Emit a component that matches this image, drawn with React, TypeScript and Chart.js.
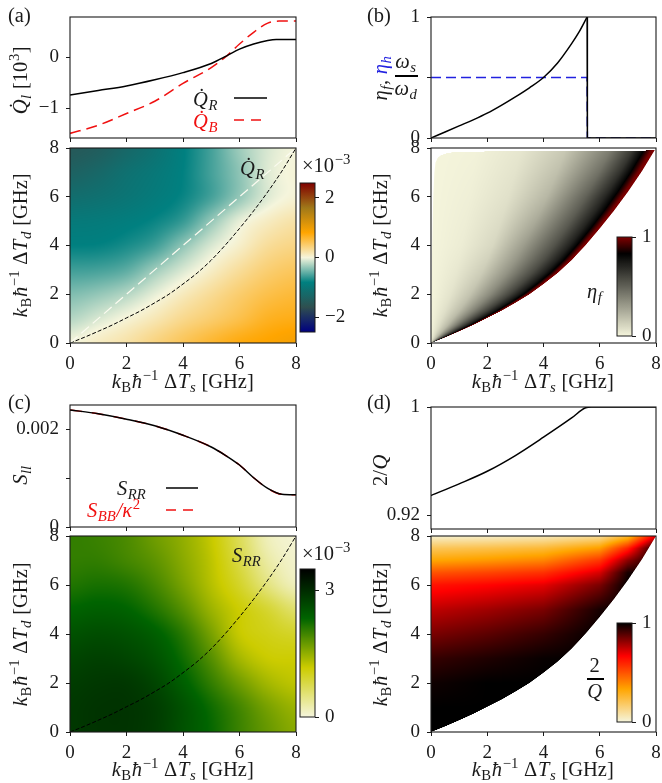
import React, { useEffect, useRef } from "react";
import { Chart, registerables } from "chart.js";

Chart.register(...registerables);

const FONT = '"Liberation Serif"';
const INK = "#1a1a1a";

// ---------- data ----------
const heatR = [
  [0, 0.1, 0.2, 0.35, 0.5, 0.65, 0.78, 0.85, 0.92],
  [-0.22, -0.1, 0.02, 0.15, 0.3, 0.42, 0.55, 0.7, 0.75],
  [-0.4, -0.33, -0.22, -0.05, 0.12, 0.27, 0.42, 0.55, 0.62],
  [-0.62, -0.6, -0.52, -0.3, -0.1, 0.08, 0.25, 0.4, 0.48],
  [-0.83, -0.82, -0.75, -0.62, -0.35, -0.1, 0.07, 0.25, 0.33],
  [-0.95, -0.93, -0.88, -0.8, -0.65, -0.33, -0.05, 0.1, 0.2],
  [-1.15, -1.1, -1.02, -0.92, -0.8, -0.6, -0.33, -0.08, 0.03],
  [-1.35, -1.25, -1.1, -0.98, -0.83, -0.6, -0.35, -0.08, 0.02],
  [-1.5, -1.42, -1.25, -1.08, -0.85, -0.6, -0.3, -0.1, 0],
];
const heatS = [
  [2.85, 2.9, 2.9, 2.8, 2.55, 2.3, 2.0, 1.75, 1.55],
  [2.85, 2.9, 2.9, 2.8, 2.55, 2.25, 1.95, 1.65, 1.45],
  [2.8, 2.85, 2.85, 2.7, 2.4, 2.05, 1.7, 1.4, 1.25],
  [2.7, 2.75, 2.7, 2.55, 2.25, 1.85, 1.4, 1.18, 1.15],
  [2.55, 2.6, 2.55, 2.4, 2.1, 1.65, 1.2, 1.05, 0.95],
  [2.35, 2.4, 2.35, 2.15, 1.85, 1.45, 1.15, 0.9, 0.6],
  [2.15, 2.2, 2.15, 1.95, 1.65, 1.3, 0.95, 0.5, 0.18],
  [2.05, 2.05, 1.95, 1.8, 1.55, 1.25, 0.8, 0.3, 0.08],
  [2.05, 2.0, 1.9, 1.7, 1.5, 1.2, 0.7, 0.18, 0.05],
];
const boundX = [0, 0.5, 1, 1.5, 2, 2.5, 3, 3.5, 4, 4.5, 5, 5.5, 6, 6.5, 7, 7.5, 8];
const boundY = [0, 0.23, 0.48, 0.74, 1.03, 1.32, 1.65, 2.0, 2.42, 2.87, 3.4, 4.02, 4.7, 5.42, 6.2, 7.05, 8];
const diagX = [0, 8];
const diagY = [0, 8];

const etaU = [0, 0.2, 0.4, 0.6, 0.8, 0.9, 0.945, 0.97, 0.985, 1];
const etaRowsY = [0, 1, 2, 4, 6, 8];
const etaF = [
  [0, 0.1, 0.22, 0.42, 0.65, 0.77, 0.84, 0.93, 0.98, 1],
  [0, 0.08, 0.2, 0.4, 0.63, 0.76, 0.84, 0.93, 0.98, 1],
  [0, 0.06, 0.17, 0.36, 0.6, 0.75, 0.84, 0.93, 0.98, 1],
  [0, 0.03, 0.1, 0.3, 0.55, 0.72, 0.83, 0.93, 0.98, 1],
  [0, 0.02, 0.07, 0.21, 0.5, 0.7, 0.82, 0.92, 0.98, 1],
  [0, 0.01, 0.05, 0.15, 0.4, 0.63, 0.8, 0.91, 0.98, 1],
];
const edgeY = [0, 4, 6, 7, 7.4, 7.6, 7.7, 7.8, 7.85, 7.9];
const edgeX = [0, 0.04, 0.08, 0.12, 0.16, 0.24, 0.35, 0.6, 1.0, 8];

const qCols = [0, 2, 4, 6, 7, 8];
const qRowsY = [0, 1, 2, 3, 4, 5, 6, 6.5, 7, 7.5, 8];
const qVals = [
  [1, 1, 1, 1, 1, 1],
  [1, 1, 1, 1, 1, 1],
  [0.98, 1, 1, 1, 1, 1],
  [0.93, 0.96, 0.99, 1, 1, 1],
  [0.84, 0.88, 0.93, 1, 1, 1],
  [0.75, 0.79, 0.84, 0.97, 1, 1],
  [0.63, 0.66, 0.7, 0.84, 1, 1],
  [0.5, 0.53, 0.57, 0.72, 0.97, 1],
  [0.33, 0.36, 0.4, 0.56, 0.82, 1],
  [0.2, 0.22, 0.25, 0.35, 0.6, 1],
  [0.02, 0.03, 0.05, 0.1, 0.25, 0.7],
];

const xTop = [0, 1, 2, 3, 4, 5, 5.55, 6, 6.5, 7, 7.3, 8];
const qR = [-0.74, -0.65, -0.56, -0.44, -0.3, -0.12, 0.03, 0.16, 0.26, 0.33, 0.35, 0.35];
const xTopB = [0, 1, 2, 3, 4, 5, 5.55, 6, 6.5, 7, 7.4, 8];
const qB = [-1.49, -1.33, -1.1, -0.86, -0.51, -0.2, 0.03, 0.26, 0.49, 0.67, 0.71, 0.71];

const xEta = [0, 0.5, 1, 1.5, 2, 2.5, 3, 3.5, 4, 4.5, 5, 5.25, 5.55];
const ratio = [0, 0.05, 0.1, 0.15, 0.205, 0.27, 0.34, 0.415, 0.5, 0.62, 0.78, 0.87, 1];
const xDrop = [5.55, 5.56, 8];
const ratioDrop = [1, 0, 0];
const xEtaH = [0, 5.55, 5.56, 8];
const etaH = [0.5, 0.5, 0, 0];

const xS = [0, 1, 2, 3, 4, 5, 5.5, 6, 6.5, 7, 7.5, 8];
const sRR = [2.4, 2.32, 2.21, 2.075, 1.88, 1.64, 1.47, 1.27, 1.01, 0.79, 0.67, 0.66];

const xInvQ = [0, 1, 2, 3, 4, 5, 5.5, 5.7, 8];
const invQ = [0.9347, 0.9433, 0.9526, 0.9642, 0.9777, 0.9919, 0.9995, 1.0, 1.0];

const heatTicks = [0, 2, 4, 6, 8];

// colormaps
type RGB = [number, number, number];
const cmapR: RGB[] = [[0, 0, 128], [47, 79, 79], [0, 128, 128], [245, 245, 220], [255, 165, 0], [160, 120, 25], [128, 0, 0]];
const cmapEta: [number, RGB][] = [[0, [245, 245, 220]], [0.83, [0, 0, 0]], [1, [128, 0, 0]]];
const cmapS: RGB[] = [[245, 245, 220], [204, 204, 0], [0, 100, 0], [0, 0, 0]];
const cmapQ: RGB[] = [[245, 245, 220], [255, 165, 0], [255, 0, 0], [0, 0, 0]];

const even = (c: RGB[]): [number, RGB][] => c.map((k, i) => [i / (c.length - 1), k]);
function colorAt(stops: [number, RGB][], t: number): RGB {
  t = Math.max(0, Math.min(1, t));
  for (let i = 1; i < stops.length; i++) {
    if (t <= stops[i][0]) {
      const [a, ca] = stops[i - 1];
      const [b, cb] = stops[i];
      const f = (t - a) / (b - a);
      return [ca[0] + (cb[0] - ca[0]) * f, ca[1] + (cb[1] - ca[1]) * f, ca[2] + (cb[2] - ca[2]) * f];
    }
  }
  return stops[stops.length - 1][1];
}

// ---------- lookup helpers ----------
function lin(xs: number[], ys: number[], x: number) {
  if (x <= xs[0]) return ys[0];
  for (let i = 1; i < xs.length; i++) {
    if (x <= xs[i]) return ys[i - 1] + ((ys[i] - ys[i - 1]) * (x - xs[i - 1])) / (xs[i] - xs[i - 1]);
  }
  return ys[ys.length - 1];
}
function cr(a: number, b: number, c: number, d: number, t: number) {
  return 0.5 * (2 * b + (c - a) * t + (2 * a - 5 * b + 4 * c - d) * t * t + (3 * b - a - 3 * c + d) * t * t * t);
}
function bicubic(g: number[][], x: number, y: number) {
  const ix = Math.min(7, Math.max(0, Math.floor(x)));
  const iy = Math.min(7, Math.max(0, Math.floor(y)));
  const cl = (i: number) => Math.max(0, Math.min(8, i));
  const row = (j: number) => cr(g[cl(j)][cl(ix - 1)], g[cl(j)][ix], g[cl(j)][ix + 1], g[cl(j)][cl(ix + 2)], x - ix);
  return cr(row(iy - 1), row(iy), row(iy + 1), row(iy + 2), y - iy);
}
function bilin(xs: number[], ys: number[], g: number[][], x: number, y: number) {
  let j = 0;
  while (j < ys.length - 2 && y > ys[j + 1]) j++;
  const f = Math.max(0, Math.min(1, (y - ys[j]) / (ys[j + 1] - ys[j])));
  const a = lin(xs, g[j], x);
  const b = lin(xs, g[j + 1], x);
  return a + (b - a) * f;
}

type Field = (x: number, y: number) => { t: number; a: number };
const fieldR: Field = (x, y) => ({ t: (bicubic(heatR, x, y) + 2.5) / 5, a: 1 });
const fieldS: Field = (x, y) => ({ t: bicubic(heatS, x, y) / 3.5, a: 1 });
const fieldEta: Field = (x, y) => {
  const xb = lin(boundY, boundX, y);
  const u = xb > 0 ? x / xb : 1;
  const el = lin(edgeY, edgeX, y);
  const d = Math.min((x - el) * 28, 1);
  const below = Math.min(1, Math.max(0, (xb - x) * 28 + 0.5));
  return { t: bilin(etaU, etaRowsY, etaF, Math.min(1, u), y), a: Math.max(0, Math.min(d + 0.5, 1)) * below };
};
const fieldQ: Field = (x, y) => {
  const xb = lin(boundY, boundX, y);
  const below = Math.min(1, Math.max(0, (xb - x) * 28 + 0.5));
  return { t: bilin(qCols, qRowsY, qVals, x, y), a: below };
};

// ---------- rich text ----------
type Seg = { t: string; i?: boolean; sub?: boolean; sup?: boolean; c?: string };
function rich(ctx: CanvasRenderingContext2D, x: number, y: number, segs: Seg[], size: number, rot = 0, align: "center" | "left" = "center", color = INK) {
  ctx.save();
  ctx.translate(x, y);
  ctx.rotate(rot);
  ctx.textBaseline = "alphabetic";
  ctx.textAlign = "left";
  const fontOf = (s: Seg) => `${s.i ? "italic " : ""}${s.sub || s.sup ? size * 0.72 : size}px ${FONT}`;
  let w = 0;
  const ws = segs.map((s) => {
    ctx.font = fontOf(s);
    const m = ctx.measureText(s.t).width + size * 0.03;
    w += m;
    return m;
  });
  let px = align === "center" ? -w / 2 : 0;
  segs.forEach((s, k) => {
    ctx.font = fontOf(s);
    ctx.fillStyle = s.c || color;
    ctx.fillText(s.t, px, s.sub ? size * 0.2 : s.sup ? -size * 0.38 : 0);
    px += ws[k];
  });
  ctx.restore();
}
const labelS: Seg[] = [{ t: "k", i: true }, { t: "B", sub: true }, { t: "ħ", i: true }, { t: "−1", sup: true }, { t: " Δ" }, { t: "T", i: true }, { t: "s", i: true, sub: true }, { t: " [GHz]" }];
const labelD: Seg[] = [{ t: "k", i: true }, { t: "B", sub: true }, { t: "ħ", i: true }, { t: "−1", sup: true }, { t: " Δ" }, { t: "T", i: true }, { t: "d", i: true, sub: true }, { t: " [GHz]" }];
const Qd = (s: string, c?: string): Seg[] => [{ t: "Q\u0307", i: true, c }, { t: s, i: true, sub: true, c }];

// ---------- chart factory ----------
type Rect = { left: number; top: number; right: number; bottom: number };
type Frame = { cx: number; cy: number; cw: number; ch: number; plot: Rect };
const TICK = 19;
const LAB = 20.5;
function tickFont() {
  return { family: FONT, size: TICK };
}
const noPad = (s: any) => {
  s.paddingTop = 0;
  s.paddingBottom = 0;
  s.paddingLeft = 0;
  s.paddingRight = 0;
};
function makeChart(
  canvas: HTMLCanvasElement,
  f: Frame,
  o: {
    datasets?: any[];
    yMin: number;
    yMax: number;
    yTicks: number[];
    yLabels?: (v: number) => string;
    xLabels?: boolean;
    field?: Field;
    stops?: [number, RGB][];
    overlay?: (ctx: CanvasRenderingContext2D) => void;
  }
) {
  const plugin = {
    id: "panel",
    beforeDatasetsDraw(chart: any) {
      if (!o.field || !o.stops) return;
      const { left, top, right, bottom } = chart.chartArea;
      const w = Math.round(right - left);
      const h = Math.round(bottom - top);
      const off = document.createElement("canvas");
      off.width = w;
      off.height = h;
      const octx = off.getContext("2d")!;
      const img = octx.createImageData(w, h);
      for (let j = 0; j < h; j++) {
        const yv = chart.scales.y.getValueForPixel(top + j + 0.5);
        for (let i = 0; i < w; i++) {
          const xv = chart.scales.x.getValueForPixel(left + i + 0.5);
          const r = o.field(xv, yv);
          const c = colorAt(o.stops, r.t);
          const k = (j * w + i) * 4;
          img.data[k] = c[0];
          img.data[k + 1] = c[1];
          img.data[k + 2] = c[2];
          img.data[k + 3] = r.a * 255;
        }
      }
      octx.putImageData(img, 0, 0);
      chart.ctx.drawImage(off, left, top);
    },
    afterDatasetsDraw(chart: any) {
      const { left, top, right, bottom } = chart.chartArea;
      const ctx = chart.ctx;
      ctx.save();
      ctx.strokeStyle = INK;
      ctx.lineWidth = 1.1;
      ctx.strokeRect(left, top, right - left, bottom - top);
      ctx.restore();
    },
    afterDraw(chart: any) {
      if (!o.overlay) return;
      const ctx = chart.ctx;
      ctx.save();
      ctx.translate(-f.cx, -f.cy);
      o.overlay(ctx);
      ctx.restore();
    },
  };
  return new Chart(canvas, {
    type: "scatter",
    data: { datasets: o.datasets || [] },
    plugins: [plugin],
    options: {
      animation: false,
      responsive: false,
      devicePixelRatio: 1,
      layout: {
        padding: { left: 0, top: f.plot.top - f.cy, right: f.cx + f.cw - f.plot.right, bottom: 0 },
      },
      plugins: { legend: { display: false }, title: { display: false }, tooltip: { enabled: false } },
      scales: {
        x: {
          type: "linear",
          min: 0,
          max: 8,
          afterBuildTicks: (s: any) => {
            s.ticks = heatTicks.map((v) => ({ value: v }));
          },
          afterFit: (s: any) => {
            s.height = f.cy + f.ch - f.plot.bottom;
            noPad(s);
          },
          border: { display: false },
          grid: { drawOnChartArea: false, drawTicks: true, tickLength: 4, tickColor: INK, tickWidth: 1 },
          ticks: {
            display: !!o.xLabels,
            autoSkip: false,
            maxRotation: 0,
            color: INK,
            padding: 6,
            font: tickFont(),
            callback: (v: any) => String(v),
          },
        },
        y: {
          type: "linear",
          min: o.yMin,
          max: o.yMax,
          afterBuildTicks: (s: any) => {
            s.ticks = o.yTicks.map((v) => ({ value: v }));
          },
          afterFit: (s: any) => {
            s.width = f.plot.left - f.cx;
            noPad(s);
          },
          border: { display: false },
          grid: { drawOnChartArea: false, drawTicks: true, tickLength: 4, tickColor: INK, tickWidth: 1 },
          ticks: {
            autoSkip: false,
            color: INK,
            padding: 7,
            font: tickFont(),
            callback: (v: any) => (o.yLabels ? o.yLabels(Number(v)) : String(v).replace("-", "−")),
          },
        },
      },
    } as any,
  });
}
function makeBar(canvas: HTMLCanvasElement, f: Frame, o: { min: number; max: number; ticks: number[]; stops: [number, RGB][] }) {
  const plugin = {
    id: "bar",
    beforeDatasetsDraw(chart: any) {
      const { left, right } = chart.chartArea;
      const s = chart.scales.y;
      const ctx = chart.ctx;
      const g = ctx.createLinearGradient(0, s.getPixelForValue(o.min), 0, s.getPixelForValue(o.max));
      for (let i = 0; i <= 60; i++) {
        const c = colorAt(o.stops, i / 60);
        g.addColorStop(i / 60, `rgb(${c[0]},${c[1]},${c[2]})`);
      }
      ctx.fillStyle = g;
      ctx.fillRect(left, chart.chartArea.top, right - left, chart.chartArea.bottom - chart.chartArea.top);
      ctx.strokeStyle = INK;
      ctx.lineWidth = 1;
      ctx.strokeRect(left, chart.chartArea.top, right - left, chart.chartArea.bottom - chart.chartArea.top);
    },
  };
  return new Chart(canvas, {
    type: "scatter",
    data: { datasets: [] },
    plugins: [plugin],
    options: {
      animation: false,
      responsive: false,
      devicePixelRatio: 1,
      layout: {
        padding: { left: f.plot.left - f.cx, top: f.plot.top - f.cy, right: 0, bottom: f.cy + f.ch - f.plot.bottom },
      },
      plugins: { legend: { display: false }, tooltip: { enabled: false } },
      scales: {
        x: { type: "linear", display: false, min: 0, max: 1 },
        y: {
          type: "linear",
          position: "right",
          min: o.min,
          max: o.max,
          afterBuildTicks: (s: any) => {
            s.ticks = o.ticks.map((v) => ({ value: v }));
          },
          afterFit: (s: any) => {
            s.width = f.cx + f.cw - f.plot.right;
            noPad(s);
          },
          border: { display: false },
          grid: { drawOnChartArea: false, tickLength: 4, tickColor: INK },
          ticks: { autoSkip: false, color: INK, padding: 6, font: tickFont(), callback: (v: any) => String(v).replace("-", "−") },
        },
      },
    } as any,
  });
}
const line = (xs: number[], ys: number[], color: string, width: number, dash?: number[], smooth = true) => ({
  data: xs.map((x, i) => ({ x, y: ys[i] })),
  showLine: true,
  borderColor: color,
  borderWidth: width,
  borderDash: dash || [],
  pointRadius: 0,
  cubicInterpolationMode: smooth ? "monotone" : "default",
  tension: 0,
});
const frame = (cx: number, cy: number, cw: number, ch: number, l: number, t: number, r: number, b: number): Frame => ({
  cx, cy, cw, ch, plot: { left: l, top: t, right: r, bottom: b },
});

const RED = "#f01010";
const BLUE = "#2222e0";

export default function App() {
  const root = useRef<HTMLDivElement>(null);
  useEffect(() => {
    const host = root.current!;
    const charts: Chart[] = [];
    const cv = (f: Frame) => {
      const c = document.createElement("canvas");
      c.width = f.cw;
      c.height = f.ch;
      c.style.cssText = `position:absolute;left:${f.cx}px;top:${f.cy}px;width:${f.cw}px;height:${f.ch}px;`;
      host.appendChild(c);
      return c;
    };
    const legendLine = (ctx: CanvasRenderingContext2D, x0: number, x1: number, y: number, c: string, dash: number[]) => {
      ctx.save();
      ctx.strokeStyle = c;
      ctx.lineWidth = 1.5;
      ctx.setLineDash(dash);
      ctx.beginPath();
      ctx.moveTo(x0, y);
      ctx.lineTo(x1, y);
      ctx.stroke();
      ctx.restore();
    };
    const R90 = -Math.PI / 2;

    // (a) top
    let f = frame(0, 0, 360, 156, 70, 17, 296, 138);
    charts.push(makeChart(cv(f), f, {
      datasets: [line(xTop, qR, "#000", 1.5), line(xTopB, qB, RED, 1.5, [11, 6])],
      yMin: -1.58, yMax: 0.79, yTicks: [-1, 0],
      overlay: (ctx) => {
        rich(ctx, 8, 22, [{ t: "(a)" }], LAB, 0, "left");
        rich(ctx, 27, 80, [...Qd("l"), { t: " [10" }, { t: "3", sup: true }, { t: "]" }], LAB, R90);
        rich(ctx, 193, 106, Qd("R"), LAB, 0, "left");
        rich(ctx, 193, 128, Qd("B", RED), LAB, 0, "left");
        legendLine(ctx, 234, 267, 98, "#000", []);
        legendLine(ctx, 234, 261, 120, RED, [10, 7]);
      },
    }));
    // (a) heat
    f = frame(0, 130, 360, 266, 70, 148, 296, 343);
    charts.push(makeChart(cv(f), f, {
      datasets: [line(diagX, diagY, "#fbfbf0", 1.2, [10, 5], false), line(boundX, boundY, "#000", 1, [4, 2])],
      yMin: 0, yMax: 8, yTicks: heatTicks, xLabels: true, field: fieldR, stops: even(cmapR),
      overlay: (ctx) => {
        rich(ctx, 183, 388, labelS, LAB);
        rich(ctx, 27, 245, labelD, LAB, R90);
        rich(ctx, 240, 175, Qd("R"), LAB, 0, "left");
        rich(ctx, 302, 172, [{ t: "×10" }, { t: "−3", sup: true }], LAB, 0, "left");
      },
    }));
    // (a) bar
    f = frame(296, 170, 70, 175, 300, 183, 315, 332);
    charts.push(makeBar(cv(f), f, { min: -2.5, max: 2.5, ticks: [-2, 0, 2], stops: even(cmapR) }));

    // (b) top
    f = frame(340, 0, 340, 156, 431, 17, 656, 138);
    charts.push(makeChart(cv(f), f, {
      datasets: [line(xEta, ratio, "#000", 1.5), line(xDrop, ratioDrop, "#000", 1.5, [], false), line(xEtaH, etaH, BLUE, 1.5, [10, 5], false)],
      yMin: 0, yMax: 1, yTicks: [0, 0.5, 1], yLabels: (v) => (v === 0.5 ? "" : String(v)),
      overlay: (ctx) => {
        rich(ctx, 367, 22, [{ t: "(b)" }], LAB, 0, "left");
        rich(ctx, 387, 78, [{ t: "η", i: true }, { t: "f", i: true, sub: true }, { t: ", " }, { t: "η", i: true, c: BLUE }, { t: "h", i: true, sub: true, c: BLUE }], LAB, R90);
        rich(ctx, 406, 68, [{ t: "ω", i: true }, { t: "s", i: true, sub: true }], LAB);
        ctx.fillStyle = "#000";
        ctx.fillRect(395, 75, 23, 2);
        rich(ctx, 406, 95, [{ t: "ω", i: true }, { t: "d", i: true, sub: true }], LAB);
      },
    }));
    // (b) heat
    f = frame(340, 130, 340, 266, 431, 148, 656, 343);
    charts.push(makeChart(cv(f), f, {
      datasets: [], yMin: 0, yMax: 8, yTicks: heatTicks, xLabels: true, field: fieldEta, stops: cmapEta,
      overlay: (ctx) => {
        rich(ctx, 543, 388, labelS, LAB);
        rich(ctx, 387, 245, labelD, LAB, R90);
        rich(ctx, 587, 298, [{ t: "η", i: true }, { t: "f", i: true, sub: true }], LAB, 0, "left");
      },
    }));
    // (b) bar
    f = frame(613, 225, 60, 122, 617, 237, 632, 336);
    charts.push(makeBar(cv(f), f, { min: 0, max: 1, ticks: [0, 1], stops: cmapEta }));

    // (c) top
    f = frame(0, 390, 360, 153, 70, 405, 296, 527);
    charts.push(makeChart(cv(f), f, {
      datasets: [line(xS, sRR, "#000", 1.5), line(xS, sRR, RED, 1.5, [12, 10])],
      yMin: 0, yMax: 2.5, yTicks: [0, 1, 2], yLabels: (v) => (v === 2 ? "0.002" : v === 1 ? "" : "0"),
      overlay: (ctx) => {
        rich(ctx, 8, 409, [{ t: "(c)" }], LAB, 0, "left");
        rich(ctx, 27, 475, [{ t: "S", i: true }, { t: "ll", i: true, sub: true }], LAB, R90);
        rich(ctx, 117, 495, [{ t: "S", i: true }, { t: "RR", i: true, sub: true }], LAB, 0, "left");
        rich(ctx, 87, 517, [{ t: "S", i: true, c: RED }, { t: "BB", i: true, sub: true, c: RED }, { t: "/κ", i: true, c: RED }, { t: "2", sup: true, c: RED }], LAB, 0, "left");
        legendLine(ctx, 166, 198, 488, "#000", []);
        legendLine(ctx, 166, 194, 510, RED, [10, 7]);
      },
    }));
    // (c) heat
    f = frame(0, 520, 360, 263, 70, 536, 296, 732);
    charts.push(makeChart(cv(f), f, {
      datasets: [line(boundX, boundY, "#000", 1, [4, 2])],
      yMin: 0, yMax: 8, yTicks: heatTicks, xLabels: true, field: fieldS, stops: even(cmapS),
      overlay: (ctx) => {
        rich(ctx, 183, 776, labelS, LAB);
        rich(ctx, 27, 634, labelD, LAB, R90);
        rich(ctx, 232, 562, [{ t: "S", i: true }, { t: "RR", i: true, sub: true }], LAB, 0, "left");
        rich(ctx, 302, 560, [{ t: "×10" }, { t: "−3", sup: true }], LAB, 0, "left");
      },
    }));
    // (c) bar
    f = frame(296, 557, 70, 172, 300, 569, 315, 717);
    charts.push(makeBar(cv(f), f, { min: 0, max: 3.5, ticks: [0, 3], stops: even(cmapS) }));

    // (d) top
    f = frame(340, 392, 340, 153, 431, 407, 656, 529);
    charts.push(makeChart(cv(f), f, {
      datasets: [line(xInvQ, invQ, "#000", 1.5)],
      yMin: 0.91, yMax: 1, yTicks: [0.92, 1],
      overlay: (ctx) => {
        rich(ctx, 367, 409, [{ t: "(d)" }], LAB, 0, "left");
        rich(ctx, 387, 470, [{ t: "2/" }, { t: "Q", i: true }], LAB, R90);
      },
    }));
    // (d) heat
    f = frame(340, 520, 340, 263, 431, 536, 656, 732);
    charts.push(makeChart(cv(f), f, {
      datasets: [], yMin: 0, yMax: 8, yTicks: heatTicks, xLabels: true, field: fieldQ, stops: even(cmapQ),
      overlay: (ctx) => {
        rich(ctx, 543, 776, labelS, LAB);
        rich(ctx, 387, 634, labelD, LAB, R90);
        rich(ctx, 595, 672, [{ t: "2" }], LAB);
        ctx.fillStyle = "#000";
        ctx.fillRect(587, 678, 17, 2);
        rich(ctx, 595, 698, [{ t: "Q", i: true }], LAB);
      },
    }));
    // (d) bar
    f = frame(613, 611, 60, 122, 617, 623, 632, 722);
    charts.push(makeBar(cv(f), f, { min: 0, max: 1, ticks: [0, 1], stops: even(cmapQ) }));

    return () => {
      charts.forEach((c) => c.destroy());
      host.innerHTML = "";
    };
  }, []);
  return <div ref={root} style={{ position: "absolute", left: 0, top: 0, width: 662, height: 783, overflow: "hidden", background: "#fff" }} />;
}
